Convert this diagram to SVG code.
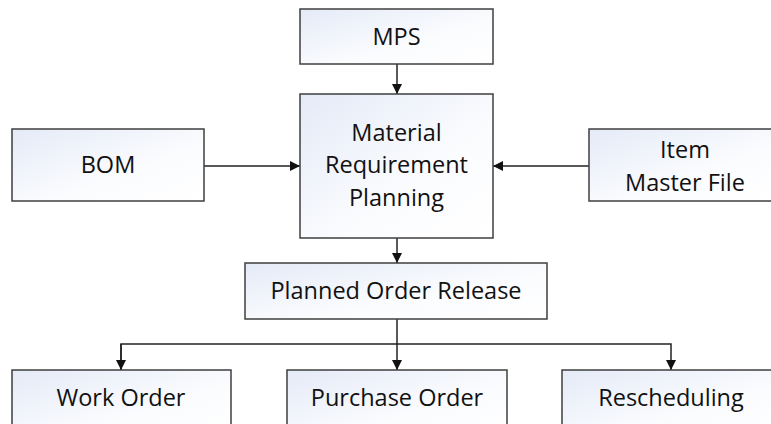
<svg xmlns="http://www.w3.org/2000/svg" width="771" height="424" viewBox="0 0 771 424">
  <style>
    .box { stroke: #3f3f3f; stroke-width: 1.5; fill: url(#boxFill); }
    .lbl { font-family: "Open Sans", "Liberation Sans", sans-serif; font-size: 23.5px; fill: #111; text-anchor: middle; dominant-baseline: central; }
    .wire { stroke: #222; stroke-width: 1.5; fill: none; }
  </style>
  <defs>
    <linearGradient id="boxFill" x1="0" y1="0" x2="1" y2="1">
      <stop offset="0" stop-color="#e4eaf7"/>
      <stop offset="0.6" stop-color="#fbfcfe"/>
      <stop offset="1" stop-color="#ffffff"/>
    </linearGradient>
    <marker id="arrow" viewBox="0 0 10 10" refX="10" refY="5" markerWidth="10" markerHeight="10" markerUnits="userSpaceOnUse" orient="auto">
      <path d="M0,0 L10,5 L0,10 Z" fill="#111"/>
    </marker>
  </defs>

  <g id="connectors">
    <line class="wire" x1="397" y1="64" x2="397" y2="94" marker-end="url(#arrow)"/>
    <line class="wire" x1="204" y1="166" x2="300" y2="166" marker-end="url(#arrow)"/>
    <line class="wire" x1="589" y1="166" x2="493" y2="166" marker-end="url(#arrow)"/>
    <line class="wire" x1="397" y1="238" x2="397" y2="263" marker-end="url(#arrow)"/>
    <line class="wire" x1="397" y1="319" x2="397" y2="370" marker-end="url(#arrow)"/>
    <polyline class="wire" points="121,370 121,344 671,344 671,370" marker-end="url(#arrow)"/>
    <line class="wire" x1="121" y1="344" x2="121" y2="370" marker-end="url(#arrow)"/>
  </g>

  <g id="mps">
    <rect class="box" x="300" y="9" width="193" height="55"/>
    <text class="lbl" x="396.5" y="36">MPS</text>
  </g>

  <g id="mrp">
    <rect class="box" x="300" y="94" width="193" height="144"/>
    <text class="lbl" x="396.5" y="132">Material</text>
    <text class="lbl" x="396.5" y="164">Requirement</text>
    <text class="lbl" x="396.5" y="197">Planning</text>
  </g>

  <g id="bom">
    <rect class="box" x="12" y="129" width="192" height="72"/>
    <text class="lbl" x="108" y="164">BOM</text>
  </g>

  <g id="item-master">
    <rect class="box" x="589" y="129" width="190" height="72"/>
    <text class="lbl" x="685" y="149">Item</text>
    <text class="lbl" x="685" y="182">Master File</text>
  </g>

  <g id="planned-order-release">
    <rect class="box" x="245" y="263" width="302" height="56"/>
    <text class="lbl" x="396" y="290">Planned Order Release</text>
  </g>

  <g id="work-order">
    <rect class="box" x="12" y="370" width="219" height="70"/>
    <text class="lbl" x="121" y="397">Work Order</text>
  </g>

  <g id="purchase-order">
    <rect class="box" x="287" y="370" width="220" height="70"/>
    <text class="lbl" x="397" y="397">Purchase Order</text>
  </g>

  <g id="rescheduling">
    <rect class="box" x="562" y="370" width="220" height="70"/>
    <text class="lbl" x="671" y="397">Rescheduling</text>
  </g>
</svg>
